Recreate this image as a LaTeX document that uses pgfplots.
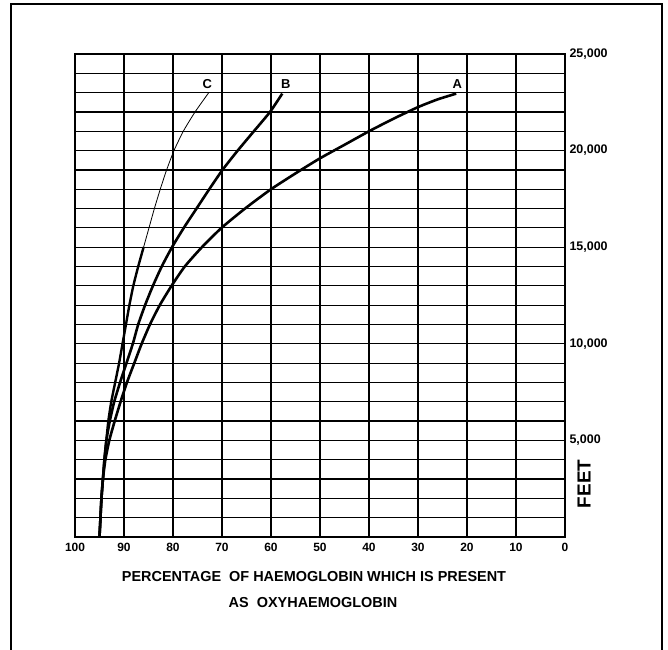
\documentclass[border=0pt]{standalone}
\usepackage{pgfplots}
\pgfplotsset{compat=1.18}
\usepackage{fontspec}
\setmainfont{Liberation Sans}
\begin{document}
\begin{tikzpicture}
\useasboundingbox (0,0) rectangle (668bp,650bp);
\draw[line width=1.4bp] (11bp,0) -- (11bp,646bp) -- (662bp,646bp) -- (662bp,0);
\begin{axis}[
  at={(75bp,113bp)}, anchor=south west, scale only axis,
  width=490bp, height=483bp,
  x dir=reverse, xmin=0, xmax=100, ymin=0, ymax=25000,
  xtick={0,10,...,100},
  xticklabels={0,10,20,30,40,50,60,70,80,90,100},
  ytick={0,1000,...,25000},
  yticklabels={,,,,,{5,000},,,,,{10,000},,,,,{15,000},,,,,{20,000},,,,,{25,000}},
  scaled y ticks=false,
  grid=major,
  major grid style={black,line width=1.2bp},
  axis line style={black,line width=1.7bp},
  yticklabel pos=right,
  major tick length=0pt,
  xticklabel style={font=\bfseries\fontsize{12}{12}\selectfont, yshift=-3bp},
  yticklabel style={font=\bfseries\fontsize{12.5}{12.5}\selectfont, xshift=1bp},
  clip=false,
]
% Curve A
\addplot[black, line width=2.6bp, smooth, tension=0.35] coordinates {
(95,0)(94.8,1000)(94.6,2000)(94.3,3000)(93.8,4000)(93.0,5000)(91.9,6000)(90.7,7000)(89.4,8000)(87.9,9000)(86.4,10000)(84.7,11000)(82.7,12000)(80.3,13000)(77.6,14000)(74.1,15000)(70.1,16000)(65.3,17000)(60,18000)(54.5,18900)(50,19600)(45,20300)(40,21000)(35,21650)(30,22250)(26,22650)(22.2,22950)};
% Curve B
\addplot[black, line width=2.6bp, smooth, tension=0.35] coordinates {
(95,0)(94.8,1000)(94.6,2000)(94.3,3000)(94.0,4000)(93.6,5000)(92.9,6000)(92.0,7000)(90.8,8000)(89.5,9000)(88.2,10000)(87.1,11000)(85.7,12000)(84.1,13000)(82.3,14000)(80.2,15000)(77.8,16000)(75.2,17000)(72.6,18000)(69.9,19000)(66.8,20000)(63.5,21000)(60.2,22000)(57.7,22950)};
% Curve C, thick lower part
\addplot[black, line width=2.4bp, smooth, tension=0.35] coordinates {
(95,0)(94.8,1000)(94.6,2000)(94.3,3000)(94.0,4000)(93.6,5000)(93.2,6000)(92.6,7000)(91.8,8000)(91.0,9000)(90.3,10000)(89.6,11000)(88.9,12000)(88.1,13000)(87.1,14000)(86.0,15000)};
% Curve C, thin upper part
\addplot[black, line width=0.8bp, smooth, tension=0.35] coordinates {
(86.0,15000)(84.9,16000)(83.8,17000)(82.6,18000)(81.3,19000)(79.8,20000)(77.9,21000)(75.5,22000)(72.7,23000)};
\node[font=\bfseries\fontsize{13}{13}\selectfont] at (axis cs:73,23450) {C};
\node[font=\bfseries\fontsize{13}{13}\selectfont] at (axis cs:57,23450) {B};
\node[font=\bfseries\fontsize{13}{13}\selectfont] at (axis cs:22,23450) {A};
\end{axis}
\node[rotate=90, font=\bfseries\fontsize{19}{19}\selectfont] at (584bp,166bp) {FEET};
\node[font=\bfseries\fontsize{14.5}{14.5}\selectfont] at (314bp,73bp) {PERCENTAGE\ \ OF HAEMOGLOBIN WHICH IS PRESENT};
\node[font=\bfseries\fontsize{14.5}{14.5}\selectfont] at (313bp,47bp) {AS\ \ OXYHAEMOGLOBIN};
\end{tikzpicture}
\end{document}
